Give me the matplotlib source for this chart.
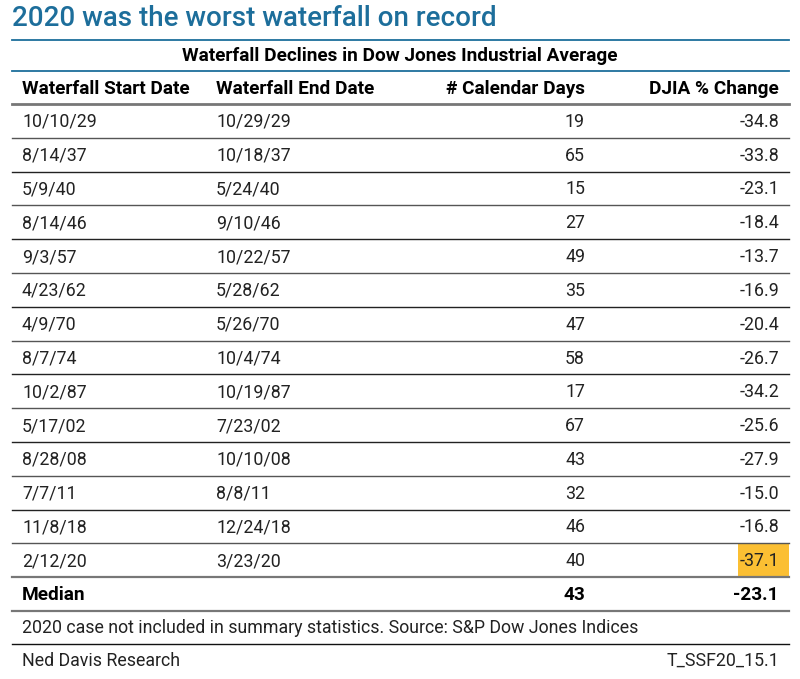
import matplotlib
matplotlib.use("Agg")
import matplotlib.pyplot as plt

plt.rcParams['font.family'] = ['Roboto', 'DejaVu Sans']

start_dates = ["10/10/29", "8/14/37", "5/9/40", "8/14/46", "9/3/57", "4/23/62", "4/9/70",
               "8/7/74", "10/2/87", "5/17/02", "8/28/08", "7/7/11", "11/8/18", "2/12/20"]
end_dates = ["10/29/29", "10/18/37", "5/24/40", "9/10/46", "10/22/57", "5/28/62", "5/26/70",
             "10/4/74", "10/19/87", "7/23/02", "10/10/08", "8/8/11", "12/24/18", "3/23/20"]
cal_days = [19, 65, 15, 27, 49, 35, 47, 58, 17, 67, 43, 32, 46, 40]
pct_change = [-34.8, -33.8, -23.1, -18.4, -13.7, -16.9, -20.4, -26.7, -34.2, -25.6,
              -27.9, -15.0, -16.8, -37.1]
headers = ["Waterfall Start Date", "Waterfall End Date", "# Calendar Days", "DJIA % Change"]
median_days = 43
median_pct = -23.1

title = "2020 was the worst waterfall on record"
subtitle = "Waterfall Declines in Dow Jones Industrial Average"
note = "2020 case not included in summary statistics. Source: S&P Dow Jones Indices"

blue = "#1d6e9b"
fs = 12.8      # body text
bfs = 13.7     # bold header text
W, H = 800, 679
fig = plt.figure(figsize=(W / 100, H / 100), dpi=100)
ax = fig.add_axes([0, 0, 1, 1])
ax.set_xlim(0, W)
ax.set_ylim(H, 0)
ax.axis("off")

L, R = 12, 789
ax.text(L, 18, title, fontsize=20, color=blue, fontweight="medium", va="center", ha="left")
ax.plot([L, R], [40, 40], color=blue, lw=1.3)
ax.text(400, 56, subtitle, fontsize=bfs, fontweight="bold", va="center", ha="center")
ax.plot([L, R], [71, 71], color=blue, lw=1.3)

x_cols = [22, 216, 585, 779]
aligns = ["left", "left", "right", "right"]
for x, h, a in zip(x_cols, headers, aligns):
    ax.text(x, 89, h, fontsize=bfs, fontweight="bold", va="center", ha=a)
ax.plot([L, R], [104, 104], color="#777777", lw=2)

top = 104
step = 33.8
n = len(start_dates)
for i in range(n):
    yc = top + step * (i + 0.5)
    last = i == n - 1
    if last:
        ax.fill_between([738, R], top + step * i, top + step * (i + 1), color="#fbbf33", lw=0)
    vals = [start_dates[i], end_dates[i], str(cal_days[i]), f"{pct_change[i]:.1f}"]
    for x, v, a in zip(x_cols, vals, aligns):
        ax.text(x, yc + 1, v, fontsize=fs, color="#222222", va="center", ha=a)
    yl = top + step * (i + 1)
    if last:
        ax.plot([L, R], [yl, yl], color="#777777", lw=1.6)
    else:
        ax.plot([L, R], [yl, yl], color="#222222" if i % 2 else "#555555", lw=1)

ym = top + step * (n + 0.5)
ax.text(x_cols[0], ym + 1, "Median", fontsize=bfs, fontweight="bold", va="center", ha="left")
ax.text(x_cols[2], ym + 1, str(median_days), fontsize=bfs, fontweight="bold", va="center", ha="right")
ax.text(x_cols[3], ym + 1, f"{median_pct:.1f}", fontsize=bfs, fontweight="bold", va="center", ha="right")
ax.plot([L, R], [611, 611], color="#777777", lw=1.6)

ax.text(x_cols[0], 628, note, fontsize=fs, color="#222222", va="center", ha="left")
ax.plot([L, R], [644, 644], color="#111111", lw=1)
ax.text(x_cols[0], 661, "Ned Davis Research", fontsize=fs, color="#222222", va="center", ha="left")
ax.text(779, 661, "T_SSF20_15.1", fontsize=fs, color="#222222", va="center", ha="right")

fig.savefig("out.png", dpi=100)
